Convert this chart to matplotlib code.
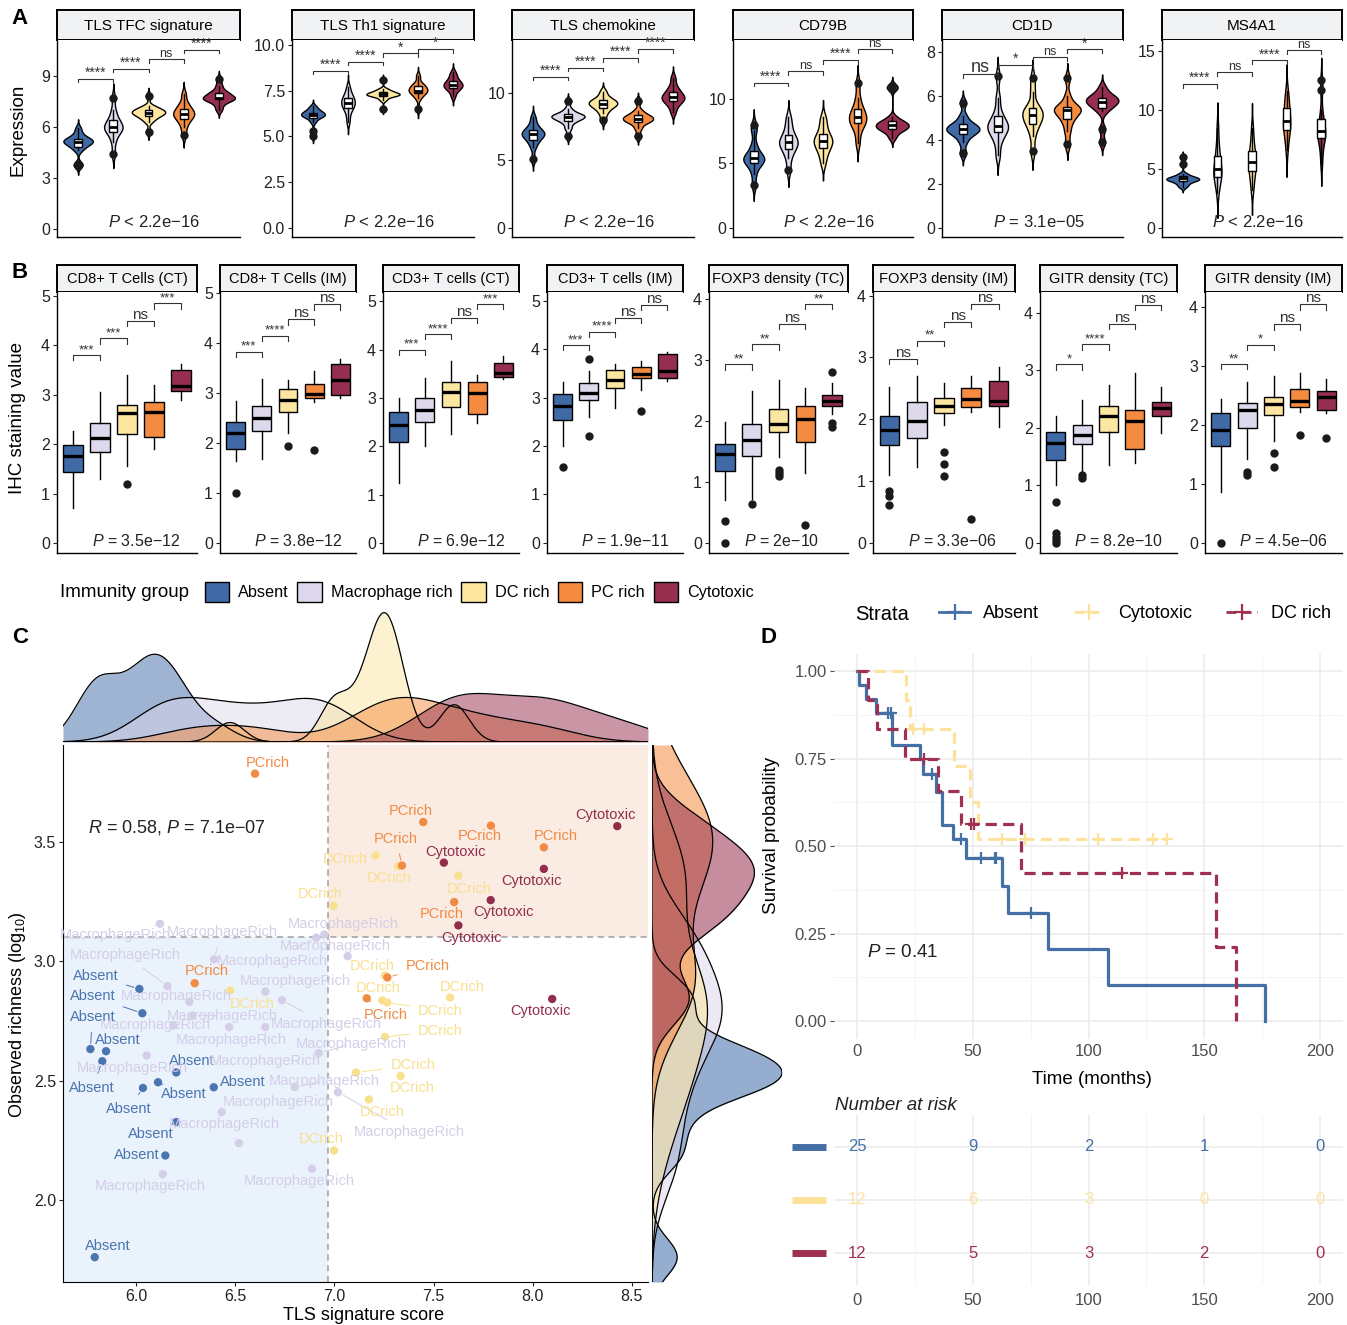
import numpy as np
import matplotlib
matplotlib.use("Agg")
import matplotlib.pyplot as plt
import matplotlib.transforms as mtransforms
from matplotlib import cbook
from matplotlib.patches import Patch
from matplotlib.lines import Line2D

plt.rcParams["font.family"] = ["Liberation Sans", "DejaVu Sans"]
plt.rcParams["mathtext.fontset"] = "custom"
plt.rcParams["mathtext.rm"] = "Liberation Sans"
plt.rcParams["mathtext.it"] = "Liberation Sans:italic"
plt.rcParams["mathtext.bf"] = "Liberation Sans:bold"

# ---------------- data ----------------
groups = ["Absent", "Macrophage rich", "DC rich", "PC rich", "Cytotoxic"]
group_colors = ["#3F6AA6", "#DDD8EB", "#FCE6A0", "#F58B40", "#962F4F"]

# panel A: expression samples per immunity group
a_titles = ["TLS TFC signature", "TLS Th1 signature", "TLS chemokine", "CD79B", "CD1D", "MS4A1"]
a_tfc = [[3.7, 3.8, 4.6, 4.8, 4.9, 5.0, 5.1, 5.1, 5.2, 5.2, 5.3, 5.4, 5.6, 5.9],
         [4.4, 5.1, 5.5, 5.7, 5.8, 5.9, 6.0, 6.1, 6.2, 6.4, 6.6, 7.0, 7.7],
         [5.7, 6.3, 6.5, 6.6, 6.7, 6.8, 6.8, 6.9, 6.9, 7.0, 7.1, 7.2, 7.8],
         [5.5, 6.0, 6.3, 6.5, 6.6, 6.7, 6.8, 6.9, 7.0, 7.2, 7.4, 7.9],
         [7.0, 7.3, 7.5, 7.6, 7.6, 7.7, 7.7, 7.8, 7.9, 8.0, 8.1, 8.4, 8.8]]
a_th1 = [[5.0, 5.3, 5.8, 6.0, 6.1, 6.1, 6.2, 6.2, 6.3, 6.3, 6.4, 6.5, 6.65],
         [5.8, 6.2, 6.5, 6.6, 6.7, 6.8, 6.9, 7.0, 7.1, 7.2, 7.4, 7.7],
         [6.5, 7.0, 7.2, 7.2, 7.3, 7.3, 7.3, 7.4, 7.4, 7.5, 7.6, 8.1],
         [6.5, 7.1, 7.3, 7.4, 7.5, 7.5, 7.6, 7.7, 7.8, 7.9, 8.3],
         [7.2, 7.5, 7.6, 7.7, 7.8, 7.8, 7.9, 8.0, 8.1, 8.3, 8.5]]
a_chemo = [[5.1, 6.0, 6.4, 6.6, 6.8, 6.9, 7.0, 7.1, 7.2, 7.4, 7.7, 8.2],
           [6.8, 7.4, 7.8, 8.0, 8.1, 8.2, 8.3, 8.3, 8.4, 8.5, 8.8, 9.4],
           [8.0, 8.5, 8.8, 9.0, 9.1, 9.2, 9.3, 9.4, 9.5, 9.7, 10.1],
           [6.8, 7.4, 7.8, 7.9, 8.0, 8.1, 8.2, 8.3, 8.4, 8.7, 9.4],
           [8.6, 9.1, 9.3, 9.5, 9.6, 9.7, 9.8, 10.0, 10.2, 10.5, 11.1]]
a_cd79b = [[3.3, 4.2, 4.8, 5.0, 5.2, 5.3, 5.4, 5.5, 5.7, 6.0, 6.5, 7.5, 8.0],
           [4.5, 5.4, 5.9, 6.2, 6.4, 6.6, 6.7, 6.9, 7.1, 7.5, 8.0, 8.6],
           [5.0, 5.6, 6.0, 6.3, 6.5, 6.7, 6.8, 7.0, 7.2, 7.6, 8.1, 8.6],
           [6.6, 7.5, 8.0, 8.2, 8.4, 8.6, 8.8, 9.1, 9.4, 10.1, 11.2],
           [7.0, 7.4, 7.6, 7.7, 7.8, 7.9, 8.0, 8.1, 8.2, 8.3, 8.6, 10.8, 11.0]]
a_cd1d = [[3.4, 3.9, 4.2, 4.3, 4.4, 4.5, 4.5, 4.6, 4.7, 4.8, 5.1, 5.7],
          [3.3, 3.9, 4.2, 4.4, 4.5, 4.6, 4.7, 4.8, 5.0, 5.3, 5.9, 6.9],
          [3.5, 4.2, 4.6, 4.8, 4.9, 5.1, 5.2, 5.3, 5.4, 5.6, 6.2, 6.8],
          [3.8, 4.4, 4.8, 5.0, 5.2, 5.3, 5.4, 5.4, 5.5, 5.6, 6.0, 6.8],
          [3.9, 4.5, 5.3, 5.5, 5.6, 5.7, 5.8, 5.8, 5.9, 6.0, 6.1, 6.4]]
a_ms4a1 = [[3.5, 3.7, 3.9, 4.0, 4.1, 4.1, 4.2, 4.2, 4.3, 4.4, 4.6, 5.4, 6.0],
           [3.0, 3.8, 4.2, 4.4, 4.7, 4.9, 5.1, 5.5, 6.0, 6.4, 7.2, 8.5],
           [3.2, 3.9, 4.5, 4.9, 5.2, 5.5, 5.7, 6.0, 6.4, 6.8, 7.5, 8.5],
           [6.6, 7.5, 8.1, 8.4, 8.7, 8.9, 9.2, 9.6, 10.1, 10.4, 11.0, 11.6],
           [5.5, 6.5, 7.2, 7.6, 7.8, 8.0, 8.2, 8.5, 8.8, 9.2, 10.0, 11.7, 12.5]]
a_samples = [a_tfc, a_th1, a_chemo, a_cd79b, a_cd1d, a_ms4a1]
a_pvals = ["$P$ < 2.2e−16", "$P$ < 2.2e−16", "$P$ < 2.2e−16",
           "$P$ < 2.2e−16", "$P$ = 3.1e−05", "$P$ < 2.2e−16"]
a_sig = [["****", "****", "ns", "****"], ["****", "****", "*", "*"],
         ["****", "****", "****", "****"], ["****", "ns", "****", "ns"],
         ["ns", "*", "ns", "*"], ["****", "ns", "****", "ns"]]
a_sig_y = [[8.83, 9.41, 9.98, 10.53], [8.58, 9.09, 9.54, 9.76],
           [11.2, 11.87, 12.57, 13.24], [11.26, 12.17, 13.02, 13.85],
           [7.0, 7.4, 7.76, 8.12], [12.18, 13.2, 14.2, 15.08]]

# panel B: IHC box statistics
b_titles = ["CD8+ T Cells (CT)", "CD8+ T Cells (IM)", "CD3+ T cells (CT)", "CD3+ T cells (IM)",
            "FOXP3 density (TC)", "FOXP3 density (IM)", "GITR density (TC)", "GITR density (IM)"]
b_med = [[1.77, 2.12, 2.63, 2.65, 3.18], [2.20, 2.50, 2.86, 2.98, 3.26],
         [2.43, 2.75, 3.13, 3.10, 3.52], [2.83, 3.10, 3.36, 3.49, 3.55],
         [1.45, 1.68, 1.95, 2.03, 2.33], [1.83, 1.97, 2.22, 2.33, 2.30],
         [1.74, 1.88, 2.20, 2.12, 2.35], [1.92, 2.25, 2.35, 2.40, 2.47]]
b_q1 = [[1.43, 1.84, 2.21, 2.15, 3.08], [1.88, 2.25, 2.63, 2.90, 2.97],
        [2.08, 2.50, 2.82, 2.66, 3.44], [2.54, 2.95, 3.20, 3.40, 3.40],
        [1.18, 1.43, 1.82, 1.65, 2.24], [1.58, 1.70, 2.10, 2.20, 2.22],
        [1.43, 1.72, 1.92, 1.63, 2.20], [1.64, 1.95, 2.17, 2.30, 2.25]]
b_q3 = [[1.99, 2.43, 2.80, 2.86, 3.50], [2.42, 2.74, 3.08, 3.19, 3.58],
        [2.70, 3.00, 3.33, 3.33, 3.72], [3.08, 3.30, 3.57, 3.63, 3.90],
        [1.62, 1.95, 2.20, 2.25, 2.43], [2.05, 2.27, 2.35, 2.50, 2.61],
        [1.93, 2.05, 2.37, 2.30, 2.45], [2.20, 2.37, 2.47, 2.60, 2.57]]
b_lo = [[0.71, 1.30, 1.55, 1.90, 2.90], [1.65, 1.68, 2.20, 2.82, 2.90],
        [1.23, 2.00, 2.25, 2.47, 3.38], [2.00, 2.60, 2.78, 3.15, 3.35],
        [0.70, 0.72, 1.40, 1.15, 2.12], [1.10, 1.22, 1.90, 2.12, 1.88],
        [1.00, 1.25, 1.35, 1.38, 1.90], [0.87, 1.43, 1.73, 2.22, 2.20]]
b_hi = [[2.27, 3.05, 3.40, 3.20, 3.62], [2.85, 3.28, 3.27, 3.44, 3.68],
        [3.00, 3.42, 3.77, 3.48, 3.87], [3.32, 3.55, 3.70, 3.75, 3.95],
        [1.98, 2.50, 2.67, 2.55, 2.62], [2.52, 2.70, 2.58, 2.70, 2.85],
        [2.20, 2.48, 2.75, 2.95, 2.70], [2.43, 2.72, 2.82, 2.87, 2.78]]
b_fliers = [[[], [], [1.2], [], []],
            [[1.0], [], [1.95], [1.87], []],
            [[], [], [], [], []],
            [[1.57], [3.80, 2.20], [], [2.72], []],
            [[0.36, 0.0], [0.63], [1.20, 1.15, 1.10], [0.29], [2.80, 1.97, 1.90]],
            [[0.83, 0.75, 0.60], [], [1.47, 1.27, 1.08], [0.38], []],
            [[0.70, 0.17, 0.10, 0.05, 0.0], [1.17, 1.13], [], [], []],
            [[0.0], [1.20, 1.15], [1.53, 1.28], [1.82], [1.78]]]
b_pvals = ["$P$ = 3.5e−12", "$P$ = 3.8e−12", "$P$ = 6.9e−12", "$P$ = 1.9e−11",
           "$P$ = 2e−10", "$P$ = 3.3e−06", "$P$ = 8.2e−10", "$P$ = 4.5e−06"]
b_sig = [["***", "***", "ns", "***"], ["***", "****", "ns", "ns"],
         ["***", "****", "ns", "***"], ["***", "****", "ns", "ns"],
         ["**", "**", "ns", "**"], ["ns", "**", "ns", "ns"],
         ["*", "****", "ns", "ns"], ["**", "*", "ns", "ns"]]
b_sig_y = [[3.80, 4.14, 4.49, 4.85], [3.83, 4.15, 4.48, 4.78],
           [4.00, 4.32, 4.65, 4.94], [4.08, 4.36, 4.65, 4.92],
           [2.93, 3.26, 3.59, 3.92], [2.97, 3.27, 3.57, 3.87],
           [3.10, 3.45, 3.80, 4.14], [3.03, 3.36, 3.70, 4.04]]

# panel C: TLS signature score vs observed richness
absent_x = [6.017, 6.032, 5.770, 5.849, 5.830, 6.035, 6.111, 6.203, 6.392, 6.203, 6.148, 5.792]
absent_y = [2.884, 2.782, 2.632, 2.623, 2.581, 2.469, 2.493, 2.534, 2.472, 2.326, 2.186, 1.760]
macro_x = [6.121, 6.909, 6.949, 6.393, 7.067, 6.158, 6.269, 6.652, 6.736, 6.286, 6.188,
           6.469, 6.652, 6.054, 6.921, 6.432, 6.519, 6.800, 7.018, 6.135, 6.887]
macro_y = [3.157, 3.099, 3.112, 3.008, 3.021, 2.896, 2.830, 2.873, 2.837, 2.772, 2.731,
           2.724, 2.724, 2.605, 2.615, 2.368, 2.238, 2.473, 2.451, 2.108, 2.131]
dc_x = [7.208, 7.625, 6.996, 7.255, 7.241, 7.267, 7.583, 7.255, 7.109, 7.334, 7.174, 6.998, 6.474, 7.321]
dc_y = [3.443, 3.359, 3.232, 2.940, 2.836, 2.827, 2.848, 2.683, 2.534, 2.519, 2.421, 2.207, 2.877, 3.398]
pc_x = [6.600, 6.296, 7.448, 7.789, 7.341, 8.056, 7.604, 7.267, 7.163]
pc_y = [3.786, 2.908, 3.583, 3.568, 3.401, 3.477, 3.248, 2.932, 2.845]
cyto_x = [8.426, 7.552, 8.056, 7.788, 7.625, 8.098]
cyto_y = [3.566, 3.413, 3.387, 3.256, 3.150, 2.842]
point_labels = ["Absent", "MacrophageRich", "DCrich", "PCrich", "Cytotoxic"]
score_cut = 6.97
richness_cut = 3.10

# label placement (pixel offsets from each point, +y up)
absent_off = [(-44, 13), (-50, 17), (2, 32), (12, 11), (-10, -27), (-14, -21), (26, -12),
              (16, 11), (29, 5), (-25, -12), (-29, 1), (13, 11)]
macro_off = [(-45, -11), (-44, -23), (19, 11), (8, 27), (-12, 10), (-42, 31), (-13, 6),
             (30, 11), (44, -24), (30, 0), (-18, 0), (2, -13), (0, -34), (-14, -12),
             (33, 9), (57, 10), (-15, 19), (30, 6), (71, -40), (-13, -12), (-13, -12)]
dc_off = [(-30, -3), (11, -13), (-13, 12), (-13, 10), (-4, 12), (53, -8), (12, 11),
          (55, 6), (57, 7), (12, -12), (13, -13), (-13, 11), (22, -13), (-9, -12)]
pc_off = [(13, 11), (12, 12), (-12, 11), (-11, -10), (-6, 27), (12, 11), (-12, -12), (40, 11), (19, -17)]
cyto_off = [(-12, 11), (12, 11), (-12, -12), (13, -12), (13, -13), (-12, -12)]

# panel D: Kaplan-Meier curves (step times / survival) and censor times
km_names = ["Absent", "Cytotoxic", "DC rich"]
km_absent_t = [0, 1.0, 3.7, 8.3, 15.0, 27.0, 28.6, 34.0, 36.5, 41.5, 47.2, 62.6, 65.0, 82.7, 108.4, 176.5]
km_absent_s = [1.0, 0.96, 0.92, 0.88, 0.79, 0.75, 0.705, 0.655, 0.56, 0.519, 0.465, 0.386, 0.308, 0.205, 0.102, 0.0]
km_absent_cens = [13.5, 14.5, 32.5, 44.8, 53.5, 59.4, 60.2, 75.1]
km_cyto_t = [0, 21.0, 23.0, 41.9, 48.7, 52.1]
km_cyto_s = [1.0, 0.917, 0.833, 0.729, 0.625, 0.521]
km_cyto_cens = [24.3, 28.9, 62.6, 72.7, 104.3, 128.0, 134.0]
km_dc_t = [0, 4.5, 8.6, 20.8, 35.0, 45.1, 70.7, 155.0, 163.6]
km_dc_s = [1.0, 0.917, 0.833, 0.75, 0.656, 0.5625, 0.422, 0.211, 0.0]
km_dc_cens = [28.9, 49.3, 50.6, 114.6]
risk_times = [0, 50, 100, 150, 200]
risk_absent = [25, 9, 2, 1, 0]
risk_cyto = [12, 6, 3, 0, 0]
risk_dc = [12, 5, 3, 2, 0]
km_colors = ["#4470A6", "#FCE29B", "#A0304F"]

# ---------------- layout ----------------
W, H = 1347, 1325
fig = plt.figure(figsize=(W / 100, H / 100), dpi=100)
TXT = "#222222"


def px_axes(x0, y0, x1, y1):
    return fig.add_axes([x0 / W, 1 - y1 / H, (x1 - x0) / W, (y1 - y0) / H])


def strip(x0, y0, x1, y1, title, fs):
    sa = px_axes(x0, y0, x1, y1)
    sa.set_xticks([])
    sa.set_yticks([])
    sa.set_facecolor("#F1F2F4")
    for s in sa.spines.values():
        s.set_linewidth(1.4)
    sa.text(0.5, 0.47, title, ha="center", va="center", fontsize=fs, transform=sa.transAxes)


def classic(ax):
    for side in ("top", "right"):
        ax.spines[side].set_visible(False)
    ax.spines["left"].set_linewidth(1.0)
    ax.spines["bottom"].set_linewidth(1.0)
    ax.tick_params(axis="y", length=3, width=0.8, labelsize=11.5, colors=TXT, pad=2)
    ax.set_xticks([])


def nrd0(x):
    x = np.asarray(x, float)
    sd = x.std(ddof=1)
    iqr = np.subtract(*np.percentile(x, [75, 25])) / 1.34
    lo = min(sd, iqr) if iqr > 0 else sd
    return 0.9 * lo * len(x) ** -0.2


def kde(x, grid, bw):
    x = np.asarray(x, float)
    z = (np.asarray(grid)[:, None] - x[None, :]) / bw
    return np.exp(-0.5 * z ** 2).sum(1) / (len(x) * bw * np.sqrt(2 * np.pi))


def brackets(ax, heights, labels, tick, fs_star, fs_ns, first_ns=None):
    for i, (h, lab) in enumerate(zip(heights, labels)):
        x0, x1 = i + 1, i + 2
        ax.plot([x0, x0, x1, x1], [h - tick, h, h, h - tick], color="#333333", lw=0.8, clip_on=False)
        fs = fs_ns if lab == "ns" else fs_star
        if i == 0 and first_ns:
            fs = first_ns
        ax.annotate(lab, ((x0 + x1) / 2, h), xytext=(0, 1.5), textcoords="offset points",
                    ha="center", va="baseline", color="#333333", fontsize=fs, annotation_clip=False)


pos = np.arange(1, 6)

# ---------------- panel A ----------------
a_xpx = [(57, 240), (292, 474), (512, 694), (733, 913), (942, 1123), (1162, 1342)]
a_ylim = [(-0.5, 11.1), (-0.49, 10.27), (-0.67, 13.93), (-0.7, 14.57), (-0.41, 8.55), (-0.76, 15.93)]
a_yticks = [[0, 3, 6, 9], [0, 2.5, 5, 7.5, 10], [0, 5, 10], [0, 5, 10], [0, 2, 4, 6, 8], [0, 5, 10, 15]]
for k in range(6):
    x0, x1 = a_xpx[k]
    strip(x0, 10, x1, 40, a_titles[k], 11)
    ax = px_axes(x0, 40, x1, 237)
    classic(ax)
    samples = a_samples[k]
    vp = []
    for s in samples:
        bw = nrd0(s)
        coords = np.linspace(min(s) - 3 * bw, max(s) + 3 * bw, 256)
        vals = kde(s, coords, bw)
        vp.append({"coords": coords, "vals": vals, "mean": np.mean(s), "median": np.median(s),
                   "min": coords[0], "max": coords[-1]})
    peaks = np.array([v["vals"].max() for v in vp])
    parts = ax.violin(vp, positions=pos, widths=0.95 * peaks / peaks.max(), showextrema=False)
    for body, col in zip(parts["bodies"], group_colors):
        body.set_facecolor(col)
        body.set_edgecolor("black")
        body.set_linewidth(1.0)
        body.set_alpha(1)
    ax.bxp(cbook.boxplot_stats(samples), positions=pos, widths=0.22, patch_artist=True, showcaps=False,
           boxprops=dict(facecolor="white", edgecolor="black", linewidth=1),
           whiskerprops=dict(color="black", linewidth=1),
           medianprops=dict(color="black", linewidth=2),
           flierprops=dict(marker="o", markerfacecolor="#1a1a1a", markeredgecolor="#1a1a1a", markersize=5))
    ax.set_xlim(0.4, 5.6)
    ax.set_ylim(*a_ylim[k])
    ax.set_yticks(a_yticks[k])
    if k == 1:
        ax.set_yticklabels(["0.0", "2.5", "5.0", "7.5", "10.0"])
    else:
        ax.set_yticklabels([str(t) for t in a_yticks[k]])
    ax.set_xticks([])
    rng = a_ylim[k][1] - a_ylim[k][0]
    # the first "ns" bracket of CD1D is printed larger in the source figure
    brackets(ax, a_sig_y[k], a_sig[k], 0.018 * rng, 10, 9, first_ns=13 if k == 4 else None)
    ax.text(0.28, 0.075, a_pvals[k], transform=ax.transAxes, ha="left", va="center", fontsize=12, color=TXT)

fig.text(20 / W, 1 - 18 / H, "A", fontsize=16, fontweight="bold", va="center", ha="center")
fig.text(18 / W, 1 - 130 / H, "Expression", rotation=90, fontsize=13.5, va="center", ha="center")

# ---------------- panel B ----------------
b_xpx = [(57, 197), (220, 356), (383, 519), (547, 683), (709, 848), (873, 1015), (1040, 1177), (1205, 1342)]
b_ylim = [(-0.2, 5.08), (-0.2, 5.03), (-0.21, 5.19), (-0.21, 5.18),
          (-0.17, 4.12), (-0.17, 4.06), (-0.18, 4.36), (-0.17, 4.25)]
for k in range(8):
    x0, x1 = b_xpx[k]
    strip(x0, 265, x1, 292, b_titles[k], 10.5)
    ax = px_axes(x0, 292, x1, 553)
    classic(ax)
    stats = []
    for g in range(5):
        stats.append({"med": b_med[k][g], "q1": b_q1[k][g], "q3": b_q3[k][g],
                      "whislo": b_lo[k][g], "whishi": b_hi[k][g], "fliers": b_fliers[k][g]})
    bp = ax.bxp(stats, positions=pos, widths=0.72, patch_artist=True, showcaps=False,
                boxprops=dict(edgecolor="black", linewidth=1),
                whiskerprops=dict(color="black", linewidth=1),
                medianprops=dict(color="black", linewidth=2.4),
                flierprops=dict(marker="o", markerfacecolor="#1a1a1a", markeredgecolor="#1a1a1a", markersize=5))
    for box, col in zip(bp["boxes"], group_colors):
        box.set_facecolor(col)
    ax.set_xlim(0.4, 5.6)
    ax.set_ylim(*b_ylim[k])
    ticks = [0, 1, 2, 3, 4, 5] if k < 4 else [0, 1, 2, 3, 4]
    ax.set_yticks(ticks)
    ax.set_yticklabels([str(t) for t in ticks])
    ax.set_xticks([])
    rng = b_ylim[k][1] - b_ylim[k][0]
    brackets(ax, b_sig_y[k], b_sig[k], 0.02 * rng, 9.5, 11)
    ax.text(0.25, 0.045, b_pvals[k], transform=ax.transAxes, ha="left", va="center", fontsize=11.5, color=TXT)

fig.text(20 / W, 1 - 272 / H, "B", fontsize=16, fontweight="bold", va="center", ha="center")
fig.text(18 / W, 1 - 418 / H, "IHC staining value", rotation=90, fontsize=13.5, va="center", ha="center")

# immunity group legend
fig.text(60 / W, 1 - 592 / H, "Immunity group", fontsize=13.5, va="center", ha="left")
handles = [Patch(facecolor=c, edgecolor="black", linewidth=1) for c in group_colors]
fig.legend(handles, groups, loc="center left", bbox_to_anchor=(198 / W, 1 - 592 / H), ncol=5,
           frameon=False, fontsize=11.7, handlelength=1.5, handleheight=1.5,
           columnspacing=0.55, handletextpad=0.55, borderaxespad=0)

# ---------------- panel C ----------------
c_colors = ["#4A75B0", "#D4CEE8", "#F9E08F", "#F18A43", "#912E4C"]
c_xs = [absent_x, macro_x, dc_x, pc_x, cyto_x]
c_ys = [absent_y, macro_y, dc_y, pc_y, cyto_y]
c_offs = [absent_off, macro_off, dc_off, pc_off, cyto_off]
xlim_c = (5.632, 8.581)
ylim_c = (1.656, 3.906)

axC = px_axes(63, 745, 648, 1282)
axC.set_xlim(*xlim_c)
axC.set_ylim(*ylim_c)
axC.fill_between([xlim_c[0], score_cut], ylim_c[0], richness_cut, color="#EAF2FC", lw=0, zorder=0)
axC.fill_between([score_cut, xlim_c[1]], richness_cut, ylim_c[1], color="#FAEBE3", lw=0, zorder=0)
axC.axvline(score_cut, color="#9E9E9E", ls=(0, (4, 3)), lw=1.1, zorder=1)
axC.axhline(richness_cut, color="#9E9E9E", ls=(0, (4, 3)), lw=1.1, zorder=1)
for g in range(5):
    axC.scatter(c_xs[g], c_ys[g], s=36, color=c_colors[g], edgecolors="none", zorder=3)
    for x, y, (dx, dy) in zip(c_xs[g], c_ys[g], c_offs[g]):
        far = np.hypot(dx, dy) > 22
        axC.annotate(point_labels[g], (x, y), xytext=(dx, dy), textcoords="offset pixels",
                     ha="center", va="center", fontsize=10.5, color=c_colors[g], zorder=4,
                     arrowprops=dict(arrowstyle="-", color=c_colors[g], lw=0.7, shrinkA=4, shrinkB=4)
                     if far else None)
for side in ("top", "right"):
    axC.spines[side].set_visible(False)
axC.set_xticks([6.0, 6.5, 7.0, 7.5, 8.0, 8.5])
axC.set_yticks([2.0, 2.5, 3.0, 3.5])
axC.tick_params(length=3, width=0.8, labelsize=11.5, colors=TXT, pad=2)
axC.text(0.043, 0.847, "$R$ = 0.58, $P$ = 7.1e−07", transform=axC.transAxes, fontsize=13,
         ha="left", va="center", color=TXT)
fig.text(364 / W, 1 - 1315 / H, "TLS signature score", fontsize=13, ha="center", va="center")
fig.text(18 / W, 1 - 1015 / H, "Observed richness (log$_{10}$)", rotation=90, fontsize=13,
         ha="center", va="center")

# marginal densities
axT = px_axes(63, 610, 648, 742)
gx = np.linspace(xlim_c[0], xlim_c[1], 400)
top_peak = 0
for g in range(5):
    d = kde(c_xs[g], gx, nrd0(c_xs[g]))
    top_peak = max(top_peak, d.max())
    axT.fill_between(gx, 0, d, color=group_colors[g], alpha=0.5, lw=0)
    axT.plot(gx, d, color="black", lw=0.9)
axT.set_xlim(*xlim_c)
axT.set_ylim(0, top_peak * 1.02)
axT.axis("off")

axRd = px_axes(652, 745, 782, 1282)
gy = np.linspace(ylim_c[0], ylim_c[1], 400)
right_peak = 0
for g in range(5):
    d = kde(c_ys[g], gy, nrd0(c_ys[g]))
    right_peak = max(right_peak, d.max())
    axRd.fill_betweenx(gy, 0, d, color=group_colors[g], alpha=0.55, lw=0)
    axRd.plot(d, gy, color="black", lw=0.9)
axRd.set_ylim(*ylim_c)
axRd.set_xlim(0, right_peak * 1.0)
axRd.axis("off")

fig.text(20 / W, 1 - 638 / H, "C", fontsize=16, fontweight="bold", va="center", ha="center")

# ---------------- panel D ----------------
GRAY = "#4D4D4D"
axK = px_axes(834, 653.5, 1343, 1038.5)
axK.set_xlim(-10, 210)
axK.set_ylim(-0.05, 1.05)
axK.set_xticks([0, 50, 100, 150, 200])
axK.set_xticks([25, 75, 125, 175], minor=True)
axK.set_yticks([0, 0.25, 0.5, 0.75, 1.0])
axK.set_yticks([0.125, 0.375, 0.625, 0.875], minor=True)
axK.set_yticklabels(["0.00", "0.25", "0.50", "0.75", "1.00"])
axK.grid(True, which="major", color="#EBEBEB", lw=1.1)
axK.grid(True, which="minor", color="#F4F4F4", lw=0.7)
axK.set_axisbelow(True)
for s in axK.spines.values():
    s.set_visible(False)
axK.tick_params(which="major", length=3, width=0.8, colors=GRAY, labelsize=12, pad=2)
axK.tick_params(which="minor", length=0)
axK.tick_params(axis="x", length=0, pad=4)

km_t = [km_absent_t, km_cyto_t, km_dc_t]
km_s = [km_absent_s, km_cyto_s, km_dc_s]
km_c = [km_absent_cens, km_cyto_cens, km_dc_cens]
km_ls = ["-", (0, (3.5, 2)), (0, (3.5, 2))]
for i in range(3):
    t = np.asarray(km_t[i], float)
    s = np.asarray(km_s[i], float)
    end = max(t[-1], max(km_c[i]))
    axK.step(np.append(t, end), np.append(s, s[-1]), where="post", color=km_colors[i],
             ls=km_ls[i], lw=2.3)
    c = np.asarray(km_c[i], float)
    cs = s[np.searchsorted(t, c, side="right") - 1]
    axK.plot(c, cs, ls="none", marker="+", ms=9, mew=1.6, color=km_colors[i])
axK.text(4.3, 0.197, "$P$ = 0.41", fontsize=13.5, ha="left", va="center", color=TXT)
fig.text(772 / W, 1 - 835 / H, "Survival probability", rotation=90, fontsize=13.5, ha="center", va="center")
fig.text(1092 / W, 1 - 1080 / H, "Time (months)", fontsize=13.5, ha="center", va="center")

fig.text(855 / W, 1 - 614 / H, "Strata", fontsize=14.5, ha="left", va="center")
km_handles = [Line2D([], [], color=km_colors[i], ls=km_ls[i], lw=2, marker="+", ms=12, mew=1.6)
              for i in range(3)]
fig.legend(km_handles, km_names, loc="center left", bbox_to_anchor=(932 / W, 1 - 614 / H), ncol=3,
           frameon=False, fontsize=13, handlelength=1.7, columnspacing=1.9, handletextpad=0.75,
           borderaxespad=0)
fig.text(768 / W, 1 - 638 / H, "D", fontsize=16, fontweight="bold", va="center", ha="center")

# risk table
axT2 = px_axes(834, 1115, 1343, 1285)
axT2.set_xlim(-10, 210)
axT2.set_ylim(0.4, 3.6)
axT2.set_xticks(risk_times)
axT2.set_xticks([25, 75, 125, 175], minor=True)
axT2.set_yticks([3, 2, 1])
axT2.set_yticklabels([])
axT2.grid(True, which="major", color="#EBEBEB", lw=1.1)
axT2.grid(True, which="minor", axis="x", color="#F4F4F4", lw=0.7)
axT2.set_axisbelow(True)
for s in axT2.spines.values():
    s.set_visible(False)
axT2.tick_params(which="both", length=0, colors=GRAY, labelsize=12, pad=6)
blend = mtransforms.blended_transform_factory(axT2.transAxes, axT2.transData)
for i, (row, counts) in enumerate(zip([3, 2, 1], [risk_absent, risk_cyto, risk_dc])):
    for t, n in zip(risk_times, counts):
        axT2.text(t, row, str(n), ha="center", va="center", fontsize=12, color=km_colors[i])
    axT2.plot([-0.0825, -0.0157], [row, row], transform=blend, clip_on=False, lw=5,
              color=km_colors[i], solid_capstyle="butt")
fig.text(835 / W, 1 - 1106 / H, "Number at risk", fontsize=13.5, style="italic", ha="left", va="center",
         color=TXT)

fig.savefig("out.png", dpi=100)
